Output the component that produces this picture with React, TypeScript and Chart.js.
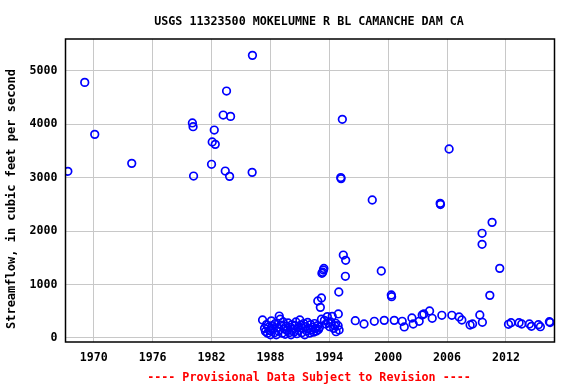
import React, { useEffect, useRef } from "react";
import { Chart, registerables } from "chart.js";

Chart.register(...registerables);

const TITLE = "USGS 11323500 MOKELUMNE R BL CAMANCHE DAM CA";
const Y_LABEL = "Streamflow, in cubic feet per second";
const FOOTER = "---- Provisional Data Subject to Revision ----";
const X_TICKS = [1970, 1976, 1982, 1988, 1994, 2000, 2006, 2012];
const Y_TICKS = [0, 1000, 2000, 3000, 4000, 5000];

const YEARS_EARLY = [1967.36, 1969.08, 1970.1, 1973.87, 1980.05, 1980.12, 1980.17, 1982.0, 1982.07, 1982.38, 1982.28, 1983.19, 1983.94, 1983.53, 1983.4, 1983.84, 1986.17, 1986.14];
const FLOW_EARLY = [3116, 4779, 3807, 3265, 4020, 3950, 3028, 3247, 3664, 3620, 3888, 4168, 4143, 4617, 3121, 3022, 5284, 3097];

const YEARS_CLUSTER = [1987.2, 1987.4, 1987.5, 1987.6, 1987.7, 1987.8, 1987.9, 1988.0, 1988.1, 1988.2, 1988.3, 1988.4, 1988.5, 1988.6, 1988.7, 1988.8, 1988.9, 1989.0, 1989.1, 1989.2, 1989.3, 1989.4, 1989.5, 1989.6, 1989.7, 1989.8, 1989.9, 1990.0, 1990.1, 1990.2, 1990.3, 1990.4, 1990.5, 1990.6, 1990.7, 1990.8, 1990.9, 1991.0, 1991.1, 1991.2, 1991.3, 1991.4, 1991.5, 1991.6, 1991.7, 1991.8, 1991.9, 1992.0, 1992.1, 1992.2, 1992.3, 1992.4, 1992.5, 1992.6, 1992.7, 1992.8, 1992.9, 1993.0];
const FLOW_CLUSTER = [336, 180, 120, 250, 90, 200, 140, 60, 320, 230, 170, 100, 270, 60, 190, 130, 410, 350, 240, 90, 300, 170, 70, 220, 140, 280, 100, 200, 60, 250, 160, 110, 230, 300, 80, 190, 140, 336, 240, 100, 180, 270, 60, 210, 130, 290, 170, 90, 250, 150, 200, 110, 270, 180, 130, 230, 160, 200];

const YEARS_MID = [1993.2, 1992.83, 1993.09, 1993.25, 1993.33, 1993.4, 1993.45, 1994.97, 1994.92, 1995.33, 1995.17, 1995.2, 1995.43, 1995.67, 1995.64, 1993.2, 1993.8, 1994.3, 1993.9, 1994.04, 1994.69, 1994.66, 1994.9, 1993.5, 1993.65, 1994.15, 1994.45, 1994.55, 1995.0];
const FLOW_MID = [748, 692, 573, 1210, 1230, 1270, 1300, 860, 449, 4088, 3000, 2980, 1551, 1452, 1153, 350, 400, 405, 286, 211, 118, 275, 230, 330, 260, 300, 180, 230, 150];

const YEARS_LATE = [1996.65, 1997.54, 1998.38, 1998.59, 1999.3, 1999.6, 2000.32, 2000.35, 2000.62, 2001.43, 2001.64, 2002.42, 2002.55, 2003.16, 2003.47, 2003.64, 2004.22, 2004.49, 2005.3, 2005.33, 2005.47, 2006.21, 2006.49, 2007.23, 2007.51, 2008.35, 2008.6, 2009.34, 2009.57, 2009.57, 2009.6, 2010.36, 2010.59, 2011.37, 2012.26, 2012.52, 2013.34, 2013.61, 2014.39, 2014.6, 2015.31, 2015.51, 2016.43, 2016.5];
const FLOW_LATE = [323, 262, 2580, 312, 1252, 330, 804, 772, 330, 312, 206, 374, 262, 312, 430, 449, 505, 368, 2517, 2495, 424, 3533, 424, 393, 336, 243, 262, 430, 1957, 1751, 293, 797, 2162, 1302, 256, 286, 286, 262, 262, 218, 249, 211, 305, 290];

const YEARS = [...YEARS_EARLY, ...YEARS_CLUSTER, ...YEARS_MID, ...YEARS_LATE];
const FLOWS = [...FLOW_EARLY, ...FLOW_CLUSTER, ...FLOW_MID, ...FLOW_LATE];

const textPlugin = {
  id: "usgsText",
  afterDraw(chart: any) {
    const ctx = chart.ctx;
    const a = chart.chartArea;
    ctx.save();
    ctx.strokeStyle = "#000";
    ctx.lineWidth = 1.5;
    ctx.strokeRect(a.left, a.top, a.right - a.left, a.bottom - a.top);
    ctx.fillStyle = "#000";
    ctx.textAlign = "center";
    ctx.textBaseline = "middle";
    ctx.font = "bold 11.7px 'DejaVu Sans Mono'";
    ctx.fillText(TITLE, 309, 22);
    ctx.fillStyle = "#ff0000";
    ctx.fillText(FOOTER, 309, 378);
    ctx.fillStyle = "#000";
    ctx.font = "bold 12px 'DejaVu Sans Mono'";
    ctx.translate(12, 199);
    ctx.rotate(-Math.PI / 2);
    ctx.fillText(Y_LABEL, 0, 0);
    ctx.restore();
  },
};

export default function App() {
  const ref = useRef<HTMLCanvasElement>(null);
  useEffect(() => {
    document.body.style.margin = "0";
    const points = YEARS.map((x, i) => ({ x, y: FLOWS[i] }));
    const chart = new Chart(ref.current!, {
      type: "scatter",
      data: {
        datasets: [
          {
            data: points,
            pointStyle: "circle",
            pointRadius: 3.8,
            pointBorderWidth: 1.7,
            borderColor: "#0000ff",
            backgroundColor: "rgba(0,0,0,0)",
          },
        ],
      },
      options: {
        responsive: false,
        animation: false,
        layout: { padding: { left: 0, top: 39, right: 21.5, bottom: 0 } },
        plugins: { legend: { display: false }, tooltip: { enabled: false } },
        scales: {
          x: {
            type: "linear",
            min: 1967.12,
            max: 2016.95,
            afterFit: (s: any) => { s.height = 42; },
            afterBuildTicks: (s: any) => { s.ticks = X_TICKS.map((v) => ({ value: v })); },
            grid: { color: "#c8c8c8", lineWidth: 1, drawTicks: false },
            border: { display: false },
            ticks: {
              padding: 9,
              color: "#000",
              font: { family: "'DejaVu Sans Mono'", size: 11.6, weight: "bold" },
              callback: (v: any) => String(v),
            },
          },
          y: {
            type: "linear",
            min: -75,
            max: 5590,
            afterFit: (s: any) => { s.width = 65.5; },
            afterBuildTicks: (s: any) => { s.ticks = Y_TICKS.map((v) => ({ value: v })); },
            grid: { color: "#c8c8c8", lineWidth: 1, drawTicks: false },
            border: { display: false },
            ticks: {
              padding: 8,
              color: "#000",
              font: { family: "'DejaVu Sans Mono'", size: 11.6, weight: "bold" },
              callback: (v: any) => String(v),
            },
          },
        },
      },
      plugins: [textPlugin],
    });
    return () => chart.destroy();
  }, []);
  return (
    <div style={{ position: "absolute", left: 0, top: 0, width: 576, height: 384, background: "#fff" }}>
      <canvas ref={ref} width={576} height={384} />
    </div>
  );
}
